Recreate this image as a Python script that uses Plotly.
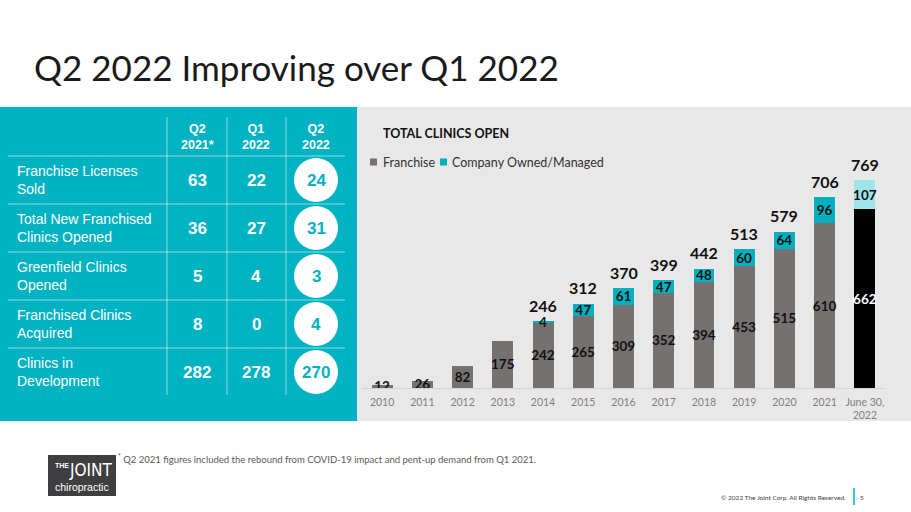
import plotly.graph_objects as go

# chart data
years = ["2010", "2011", "2012", "2013", "2014", "2015", "2016", "2017",
         "2018", "2019", "2020", "2021", "June 30,<br>2022"]
franchise = [12, 26, 82, 175, 242, 265, 309, 352, 394, 453, 515, 610, 662]
company = [0, 0, 0, 0, 4, 47, 61, 47, 48, 60, 64, 96, 107]

# table data
row_labels = ["Franchise Licenses<br>Sold", "Total New Franchised<br>Clinics Opened",
              "Greenfield Clinics<br>Opened", "Franchised Clinics<br>Acquired",
              "Clinics in<br>Development"]
col_headers = ["Q2<br>2021*", "Q1<br>2022", "Q2<br>2022"]
q2_2021 = [63, 36, 5, 8, 282]
q1_2022 = [22, 27, 4, 0, 278]
q2_2022 = [24, 31, 3, 4, 270]

W, H = 911, 512
TEAL = "#00B3C2"
GREY_BAR = "#767171"
FONT = "Lato"
TABLE_FONT = "Liberation Sans"


def px(x):
    return x / W


def py(y):
    return 1 - y / H


def note(x, y, text, font, xanchor="center", **kw):
    # paper-pixel annotation, anchors set explicitly (auto anchoring shifts them)
    return dict(x=px(x), y=py(y), xref="paper", yref="paper", text=text,
                showarrow=False, xanchor=xanchor, yanchor="middle",
                font=font, **kw)


totals = [f + c for f, c in zip(franchise, company)]
n = len(years)

fig = go.Figure()

fig.add_trace(go.Bar(
    x=years, y=franchise, name="Franchise",
    marker=dict(color=[GREY_BAR] * (n - 1) + ["#000000"], line_width=0),
    text=[f"<b>{v}</b>" for v in franchise],
    textposition="inside", insidetextanchor="middle", constraintext="none",
    textangle=0,
    textfont=dict(family=FONT, size=13.5,
                  color=["#111111"] * (n - 1) + ["#FFFFFF"]),
    showlegend=False, hoverinfo="skip",
))
fig.add_trace(go.Bar(
    x=years, y=company, name="Company Owned/Managed",
    marker=dict(color=["#00B0BE"] * (n - 1) + ["#9EE4EB"], line_width=0),
    text=[f"<b>{v}</b>" if v else "" for v in company],
    textposition="inside", insidetextanchor="middle", constraintext="none",
    textangle=0,
    textfont=dict(family=FONT, size=13.5, color="#111111"),
    showlegend=False, hoverinfo="skip",
))

annotations = []
shapes = []

# total labels above the stacked bars (x by category index: numeric-looking
# strings would be read as numbers by annotations)
for i, (t, c) in enumerate(zip(totals, company)):
    if c:
        annotations.append(dict(
            x=i, y=t, xref="x", yref="y", text=f"<b>{t}</b>",
            showarrow=False, xanchor="center", yanchor="middle", yshift=16,
            font=dict(family=FONT, size=16, color="#111111"),
        ))

# background panels
shapes.append(dict(type="rect", xref="paper", yref="paper", layer="below",
                   x0=px(357), x1=1, y0=py(421), y1=py(107),
                   fillcolor="#E8E8E8", line_width=0))
shapes.append(dict(type="rect", xref="paper", yref="paper", layer="below",
                   x0=0, x1=px(357), y0=py(421), y1=py(107),
                   fillcolor=TEAL, line_width=0))

# slide title
annotations.append(note(32, 67, "Q2 2022 Improving over Q1 2022",
                        dict(family=FONT, size=35, color="#1A1A1A"), "left"))

# chart title and legend
annotations.append(note(381, 133, "<b>TOTAL CLINICS OPEN</b>",
                        dict(family=FONT, size=12.5, color="#111111"), "left"))
for sx, tx, col, label in [(370, 381, GREY_BAR, "Franchise"),
                           (440, 450, "#00B0BE", "Company Owned/Managed")]:
    shapes.append(dict(type="rect", xref="paper", yref="paper",
                       x0=px(sx), x1=px(sx + 7), y0=py(165.5), y1=py(158.5),
                       fillcolor=col, line_width=0))
    annotations.append(note(tx, 162, label,
                            dict(family=FONT, size=12.5, color="#333333"), "left"))

# table grid
col_x = [197, 256, 316]
row_y = [180, 228, 276, 324, 372]
line_col = "rgba(255,255,255,0.55)"
for yl in [156, 204, 252, 300, 348]:
    shapes.append(dict(type="line", xref="paper", yref="paper",
                       x0=px(8), x1=px(345), y0=py(yl), y1=py(yl),
                       line=dict(color=line_col, width=1)))
for xl in [167, 227, 286]:
    shapes.append(dict(type="line", xref="paper", yref="paper",
                       x0=px(xl), x1=px(xl), y0=py(117), y1=py(395),
                       line=dict(color=line_col, width=1)))

for cx, hdr in zip(col_x, col_headers):
    annotations.append(note(cx, 137, f"<b>{hdr}</b>",
                            dict(family=TABLE_FONT, size=12.5, color="white")))

for i, ry in enumerate(row_y):
    annotations.append(note(15, ry, row_labels[i],
                            dict(family=TABLE_FONT, size=14, color="white"),
                            "left", align="left"))
    for cx, vals in zip(col_x[:2], [q2_2021, q1_2022]):
        annotations.append(note(cx, ry, f"<b>{vals[i]}</b>",
                                dict(family=TABLE_FONT, size=17, color="white")))
    shapes.append(dict(type="circle", xref="paper", yref="paper",
                       x0=px(col_x[2] - 22), x1=px(col_x[2] + 22),
                       y0=py(ry + 22), y1=py(ry - 22),
                       fillcolor="white", line_width=0))
    annotations.append(note(col_x[2], ry, f"<b>{q2_2022[i]}</b>",
                            dict(family=TABLE_FONT, size=17, color=TEAL)))

# footnote
annotations.append(note(
    116, 458,
    "<sup>*</sup> Q2 2021 figures included the rebound from COVID-19 impact "
    "and pent-up demand from Q1 2021.",
    dict(family=FONT, size=9.5, color="#595959"), "left"))

# logo
shapes.append(dict(type="rect", xref="paper", yref="paper",
                   x0=px(48), x1=px(116), y0=py(496), y1=py(455),
                   fillcolor="#3F3F3F", line_width=0))
annotations.append(note(53, 465, "<b>THE</b>",
                        dict(family=TABLE_FONT, size=7, color="white"), "left"))
annotations.append(note(67, 470, "JOINT",
                        dict(family="DejaVu Sans Condensed", size=17,
                             color="white"), "left"))
annotations.append(note(82, 487, "chiropractic",
                        dict(family=TABLE_FONT, size=10.5, color="white")))

# footer
annotations.append(note(848, 497, "© 2022 The Joint Corp. All Rights Reserved.",
                        dict(family=FONT, size=6.5, color="#404040"), "right"))
shapes.append(dict(type="line", xref="paper", yref="paper",
                   x0=px(854), x1=px(854), y0=py(505), y1=py(488),
                   line=dict(color=TEAL, width=1.5)))
annotations.append(note(862, 497, "5",
                        dict(family=FONT, size=6.5, color="#404040")))

fig.update_layout(
    width=W, height=H,
    margin=dict(l=0, r=0, t=0, b=0),
    paper_bgcolor="white", plot_bgcolor="rgba(0,0,0,0)",
    barmode="stack", bargap=0.48,
    showlegend=False,
    xaxis=dict(type="category", domain=[px(362), px(885)],
               range=[-0.5, n - 0.5], showline=True,
               linecolor="#D4D4D4", linewidth=1, ticks="", showgrid=False,
               fixedrange=True, ticklabelstandoff=4,
               tickfont=dict(family=FONT, size=10.5, color="#808080")),
    yaxis=dict(domain=[py(388), py(145)], range=[0, 900], visible=False,
               fixedrange=True),
    shapes=shapes,
    annotations=annotations,
)

fig.write_html("out.html", config={"displayModeBar": False},
               post_script="document.body.style.margin='0';")
